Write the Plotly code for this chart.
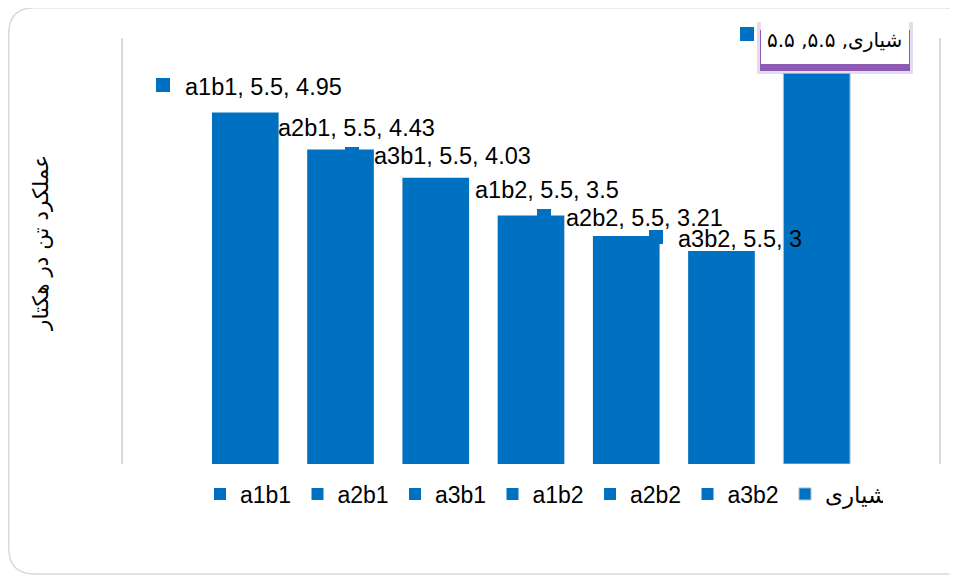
import plotly.graph_objects as go

# ---------------- data ----------------
series_names = ["a1b1", "a2b1", "a3b1", "a1b2", "a2b2", "a3b2", "شیاری"]
category = "5.5"
yields = [4.95, 4.43, 4.03, 3.5, 3.21, 3.0, 5.5]
y_title = "عملکرد تن در هکتار"

# ---------------- style ----------------
BAR_COLOR = "#0070C0"
TXT = "#000000"
LATIN = "Liberation Sans, DejaVu Sans, sans-serif"
ARABIC = "DejaVu Sans, sans-serif"
W, H = 957, 576
OFF = 8  # page body margin
# plot area in screen pixels
SL, SR, ST, SB = 123, 939, 38, 464
L, R, T, B = SL - OFF, W - (SR - OFF), ST - OFF, H - (SB - OFF)
PW, PH = W - L - R, H - T - B


def px(x):  # screen x -> paper
    return (x - OFF - L) / PW


def py(y):  # screen y -> paper
    return (H - B - (y - OFF)) / PH


FA_DIGITS = str.maketrans("0123456789", "۰۱۲۳۴۵۶۷۸۹")


def fa(v):
    return f"{v:g}".translate(FA_DIGITS)


fig = go.Figure()
for i, (name, val) in enumerate(zip(series_names, yields)):
    fig.add_trace(go.Bar(
        x=[category], y=[val], name=name,
        marker=dict(color=BAR_COLOR,
                    line=dict(width=1 if i == 6 else 0, color="#a9c1dc")),
    ))

shapes = []
annotations = []

# rounded chart border; its right side falls just past the visible page
x0, y0, y1, r = 8.75, 7.75, 574, 26
xc = 945  # where the top-right corner starts to bend
path = (f"M {px(958)},{py(y0 + 12)} Q {px(956)},{py(y0)} {px(xc)},{py(y0)} "
        f"L {px(x0 + r)},{py(y0)} "
        f"Q {px(x0)},{py(y0)} {px(x0)},{py(y0 + r)} "
        f"L {px(x0)},{py(y1 - r)} Q {px(x0)},{py(y1)} {px(x0 + r)},{py(y1)} "
        f"L {px(960)},{py(y1)}")
shapes.append(dict(type="path", xref="paper", yref="paper", path=path,
                   line=dict(color="#d9d9d9", width=1.5), layer="below"))

# data labels (manually placed in the original)
label_pos = [(185, 87), (278, 128), (374, 156), (475, 190), (566, 218), (678, 239)]
for (name, val), (lx, ly) in zip(zip(series_names[:6], yields[:6]), label_pos):
    kx, ky = lx - 29, ly - 2
    shapes.append(dict(type="rect", xref="paper", yref="paper",
                       x0=px(kx), x1=px(kx + 14), y0=py(ky - 7), y1=py(ky + 7),
                       fillcolor=BAR_COLOR, line=dict(width=0)))
    annotations.append(dict(xref="paper", yref="paper", x=px(lx - 2), y=py(ly),
                            xanchor="left", yanchor="middle", showarrow=False,
                            text=f"{name}, {category}, {val:g}",
                            font=dict(family=LATIN, size=23.5, color=TXT)))

# highlighted label box for the last series
shapes.append(dict(type="rect", xref="paper", yref="paper",
                   x0=px(757), x1=px(913), y0=py(22), y1=py(74),
                   fillcolor="#7030a0", opacity=0.18, line=dict(width=0)))
shapes.append(dict(type="rect", xref="paper", yref="paper",
                   x0=px(760), x1=px(910), y0=py(30), y1=py(71),
                   fillcolor="#7030a0", opacity=0.75, line=dict(width=0)))
shapes.append(dict(type="rect", xref="paper", yref="paper",
                   x0=px(761), x1=px(909), y0=py(18), y1=py(64),
                   fillcolor="white", line=dict(width=0)))
shapes.append(dict(type="rect", xref="paper", yref="paper",
                   x0=px(740), x1=px(754), y0=py(27), y1=py(41),
                   fillcolor=BAR_COLOR, line=dict(width=0)))
annotations.append(dict(xref="paper", yref="paper", x=px(834), y=py(40),
                        xanchor="center", yanchor="middle", showarrow=False,
                        text=f"{series_names[6]}, {fa(float(category))}, {fa(yields[6])}",
                        font=dict(family=ARABIC, size=20, color=TXT)))

# y axis title
annotations.append(dict(xref="paper", yref="paper", x=px(41), y=py(243),
                        xanchor="center", yanchor="middle", showarrow=False,
                        textangle=-90, text=y_title,
                        font=dict(family=ARABIC, size=21.5, color=TXT)))

fig.update_layout(
    width=W, height=H,
    margin=dict(l=L, r=R, t=T, b=B, pad=0),
    paper_bgcolor="white", plot_bgcolor="white",
    barmode="group", bargap=0.183, bargroupgap=0.30,
    showlegend=True,
    legend=dict(orientation="h", x=px(200), y=py(494), xanchor="left",
                yanchor="middle", entrywidth=52.5, entrywidthmode="pixels",
                font=dict(family=LATIN, size=23, color=TXT),
                bgcolor="rgba(0,0,0,0)", traceorder="normal"),
    xaxis=dict(showticklabels=False, showgrid=False, zeroline=False,
               showline=False, ticks=""),
    yaxis=dict(range=[0, 6], showticklabels=False, showgrid=False,
               zeroline=False, showline=True, mirror=True,
               linecolor="#d9d9d9", linewidth=1.5, ticks=""),
    shapes=shapes,
    annotations=annotations,
)

fig.write_html("out.html")
